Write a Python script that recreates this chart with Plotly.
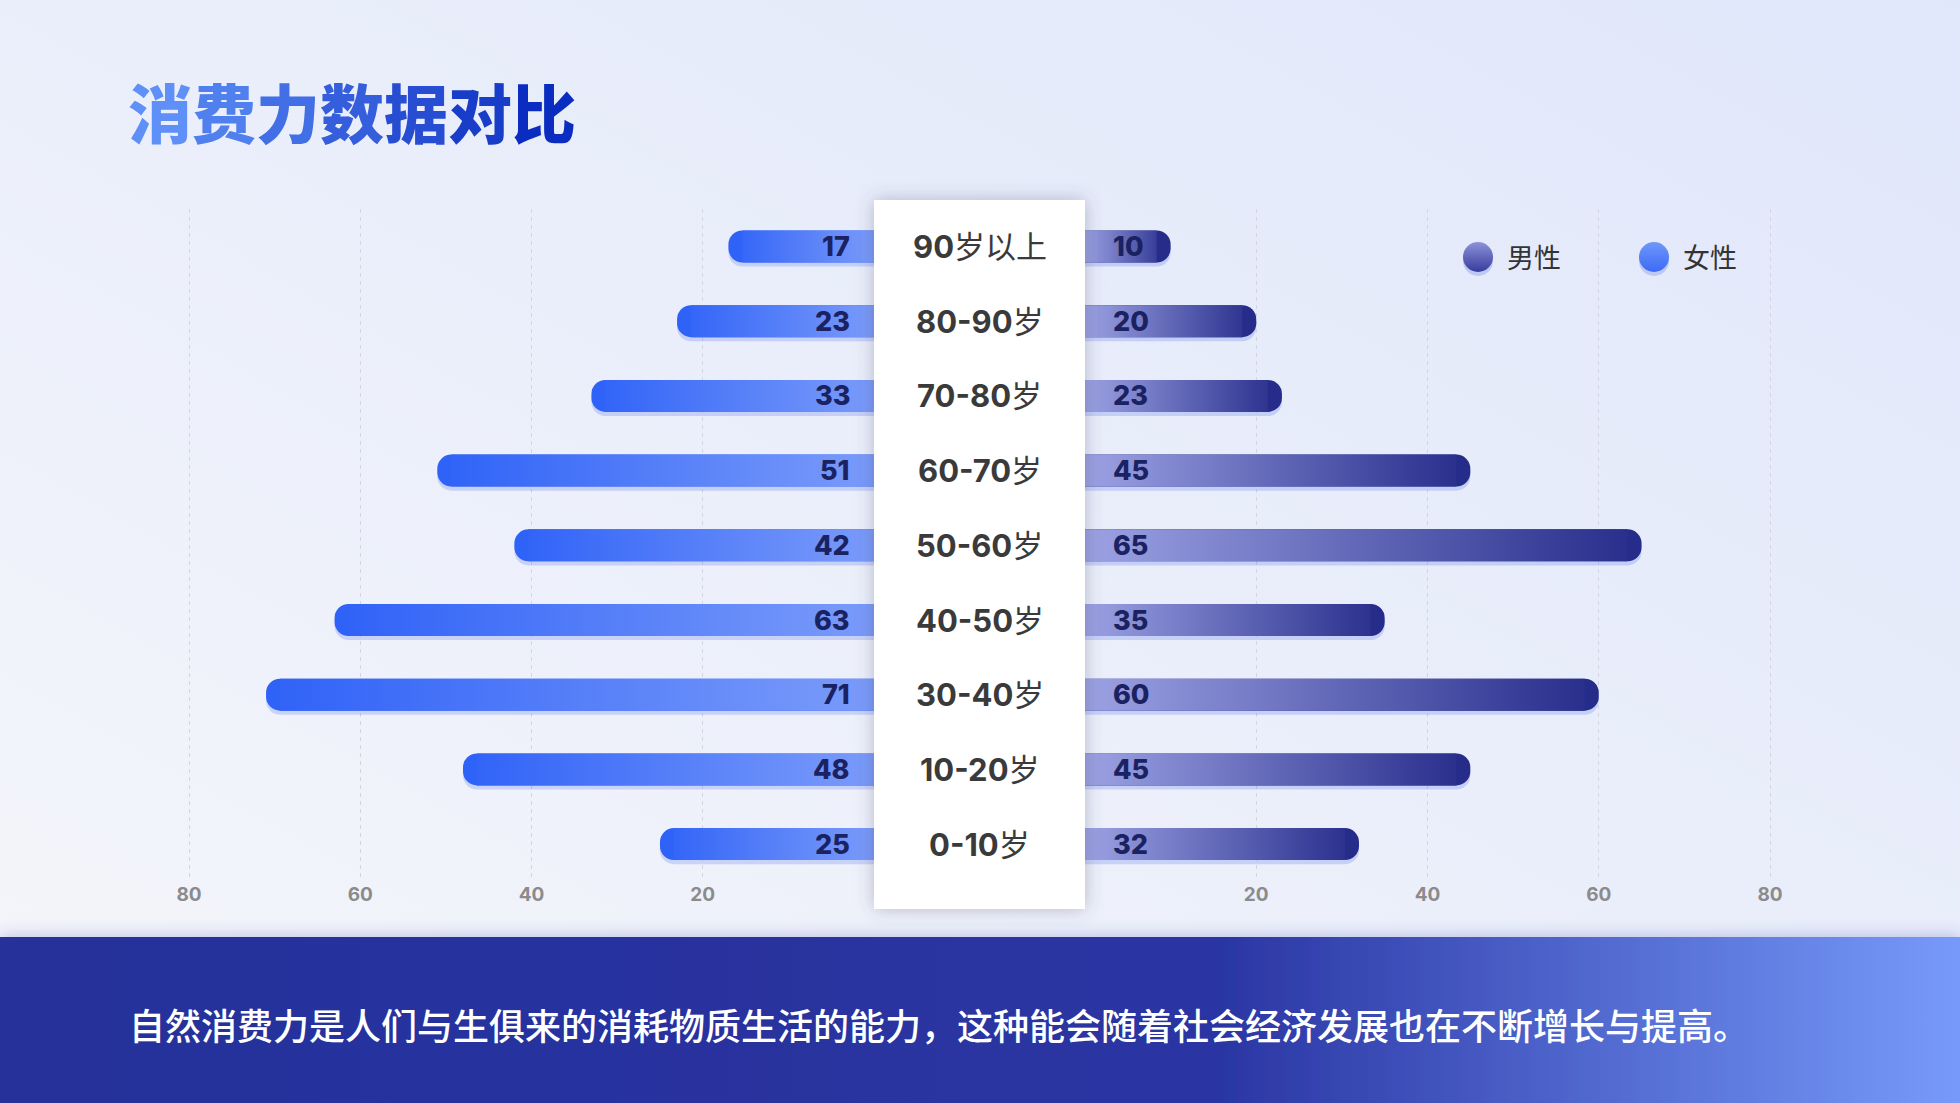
import base64
import re

import plotly.graph_objects as go

AGE_GROUPS = ["90岁以上", "80-90岁", "70-80岁", "60-70岁", "50-60岁",
              "40-50岁", "30-40岁", "10-20岁", "0-10岁"]
FEMALE = [17, 23, 33, 51, 42, 63, 71, 48, 25]
MALE = [10, 20, 23, 45, 65, 35, 60, 45, 32]
SERIES = ["男性", "女性"]
TICKS = [20, 40, 60, 80]
TITLE = "消费力数据对比"
NOTE = "自然消费力是人们与生俱来的消耗物质生活的能力，这种能会随着社会经济发展也在不断增长与提高。"

# page geometry (px)
W, H = 1960, 1103
UNIT = 8.5625          # px per value unit
XMAX = 88
LEFT_ZERO, RIGHT_ZERO = 874, 1085
ROW_TOP, ROW_STEP = 246.5, 74.7
BAR_PX = 32
RADIUS = 14

F_NEAR, F_FAR = "#7a9bfa", "#2f62f7"
M_NEAR, M_FAR = "#9ca2e3", "#262c8a"
NUM_FONT = "Inter, Noto Sans CJK SC"
CJK_FONT = "Noto Sans CJK SC"


def mix(c0, c1, t):
    a = [int(c0[i:i + 2], 16) for i in (1, 3, 5)]
    b = [int(c1[i:i + 2], 16) for i in (1, 3, 5)]
    return "#" + "".join("%02x" % round(a[k] + (b[k] - a[k]) * t) for k in range(3))


def svg_uri(body):
    svg = (f'<svg xmlns="http://www.w3.org/2000/svg" width="{W}" height="{H}" '
           f'viewBox="0 0 {W} {H}">{body}</svg>')
    return "data:image/svg+xml;base64," + base64.b64encode(svg.encode()).decode()


n = len(AGE_GROUPS)
rows = list(range(n))
bar_w = BAR_PX / ROW_STEP
cap = RADIUS / UNIT
y_top_px = ROW_TOP - ROW_STEP / 2
y_bot_px = y_top_px + n * ROW_STEP
ydom = [1 - y_bot_px / H, 1 - y_top_px / H]
left_dom = [(LEFT_ZERO - XMAX * UNIT) / W, LEFT_ZERO / W]
right_dom = [RIGHT_ZERO / W, (RIGHT_ZERO + XMAX * UNIT) / W]

fig = go.Figure()

# bars: soft shadow, capsule body, gradient overlay
for vals, xa, near, far in [(FEMALE, "x", F_NEAR, F_FAR), (MALE, "x2", M_NEAR, M_FAR)]:
    fig.add_trace(go.Bar(
        x=vals, y=[r + 0.055 for r in rows], orientation="h", width=bar_w,
        marker=dict(color="rgba(70,100,235,0.22)", cornerradius=RADIUS, line=dict(width=0)),
        xaxis=xa, yaxis="y", hoverinfo="skip"))
    fig.add_trace(go.Bar(
        x=vals, y=rows, orientation="h", width=bar_w,
        marker=dict(color=far, cornerradius=RADIUS, line=dict(width=0)),
        xaxis=xa, yaxis="y", hoverinfo="skip"))
    for r, v in zip(rows, vals):
        end = v - cap
        fig.add_trace(go.Scatter(
            x=[0, end, end, 0, 0],
            y=[r - bar_w / 2, r - bar_w / 2, r + bar_w / 2, r + bar_w / 2, r - bar_w / 2],
            mode="lines", line=dict(width=0), fill="toself",
            fillgradient=dict(type="horizontal", start=0, stop=end,
                              colorscale=[[0, near], [1, mix(near, far, end / v)]]),
            xaxis=xa, yaxis="y", hoverinfo="skip"))

# legend markers on an overlay paper-like axis
legend_pos = {"男性": (1478, 257), "女性": (1654, 257)}
legend_col = {"男性": ("#8d92da", "#363c9c"), "女性": ("#7098fa", "#3c6af7")}
for s in SERIES:
    px_, py_ = legend_pos[s]
    c0, c1 = legend_col[s]
    fig.add_trace(go.Scatter(
        x=[px_ / W], y=[1 - (py_ + 4) / H], mode="markers",
        marker=dict(size=30, color="rgba(70,100,230,0.25)", line=dict(width=0)),
        xaxis="x3", yaxis="y3", hoverinfo="skip"))
    fig.add_trace(go.Scatter(
        x=[px_ / W], y=[1 - py_ / H], mode="markers",
        marker=dict(size=30, color=c0, gradient=dict(type="vertical", color=c1), line=dict(width=0)),
        xaxis="x3", yaxis="y3", hoverinfo="skip"))

ann = []
# title with per-character gradient
title_html = "".join(
    f'<span style="color:{mix("#5e90f7", "#0a2cc0", k / (len(TITLE) - 1))}">{ch}</span>'
    for k, ch in enumerate(TITLE))
ann.append(dict(text=title_html, x=126 / W, y=1 - 110 / H, xref="paper", yref="paper",
                xanchor="left", yanchor="middle", showarrow=False,
                font=dict(family=CJK_FONT, size=64, weight=900)))
ann.append(dict(text=NOTE, x=127 / W, y=1 - 1024 / H, xref="paper", yref="paper",
                xanchor="left", yanchor="middle", showarrow=False,
                font=dict(family=CJK_FONT, size=36, color="#ffffff", weight=500)))

for r, lab, f, m in zip(rows, AGE_GROUPS, FEMALE, MALE):
    ann.append(dict(text=re.sub(r"([\d\-]+)", r"<b>\1</b>", lab),
                    x=(LEFT_ZERO + RIGHT_ZERO) / 2 / W, y=r, xref="paper", yref="y",
                    xanchor="center", yanchor="middle", showarrow=False,
                    font=dict(family=NUM_FONT, size=31, color="#3a3a3a")))
    ann.append(dict(text=str(f), x=0, y=r, xref="x", yref="y", xanchor="right",
                    yanchor="middle", xshift=-22, showarrow=False,
                    font=dict(family=NUM_FONT, size=27, color="#1b2262", weight=800)))
    ann.append(dict(text=str(m), x=0, y=r, xref="x2", yref="y", xanchor="left",
                    yanchor="middle", xshift=26, showarrow=False,
                    font=dict(family=NUM_FONT, size=27, color="#1b2262", weight=800)))

for s in SERIES:
    px_, py_ = legend_pos[s]
    ann.append(dict(text=s, x=(px_ + 27) / W, y=1 - py_ / H, xref="paper", yref="paper",
                    xanchor="left", yanchor="middle", showarrow=False,
                    font=dict(family=CJK_FONT, size=27, color="#333333")))

bg_svg = svg_uri(
    '<defs>'
    '<linearGradient id="bg" x1="0" y1="1" x2="1" y2="0">'
    '<stop offset="0" stop-color="#f5f6fa"/><stop offset="1" stop-color="#e0e7fa"/>'
    '</linearGradient>'
    '<linearGradient id="band" x1="0" y1="0" x2="1" y2="0">'
    '<stop offset="0" stop-color="#26309a"/><stop offset="0.62" stop-color="#2a35a3"/>'
    '<stop offset="1" stop-color="#779afa"/></linearGradient>'
    '<filter id="sh" x="-5%" y="-50%" width="110%" height="200%">'
    '<feDropShadow dx="0" dy="-3" stdDeviation="7" flood-color="#3a4ab0" flood-opacity="0.25"/>'
    '</filter></defs>'
    f'<rect width="{W}" height="{H}" fill="url(#bg)"/>'
    f'<rect y="937" width="{W}" height="{H - 937}" fill="url(#band)" filter="url(#sh)"/>')

box_svg = svg_uri(
    '<defs><filter id="bs" x="-30%" y="-10%" width="160%" height="120%">'
    '<feDropShadow dx="0" dy="0" stdDeviation="9" flood-color="#4a5070" flood-opacity="0.35"/>'
    '</filter></defs>'
    f'<rect x="{LEFT_ZERO}" y="200" width="{RIGHT_ZERO - LEFT_ZERO}" height="709" '
    'fill="#ffffff" filter="url(#bs)"/>')

axis_common = dict(range=None, tickvals=TICKS, showgrid=True, gridcolor="#d3d6df",
                   gridwidth=1.3, griddash="4px,4px", zeroline=False, showline=False,
                   ticks="", tickfont=dict(family=NUM_FONT, size=19, color="#8b8b8b", weight="bold"),
                   fixedrange=True, anchor="y")

fig.update_layout(
    width=W, height=H, margin=dict(l=0, r=0, t=0, b=0),
    paper_bgcolor="#f0f2fa", plot_bgcolor="rgba(0,0,0,0)",
    barmode="overlay", showlegend=False,
    xaxis={**axis_common, "domain": left_dom, "range": [XMAX, 0]},
    xaxis2={**axis_common, "domain": right_dom, "range": [0, XMAX]},
    yaxis=dict(domain=ydom, range=[n - 0.5, -0.5], visible=False, fixedrange=True),
    xaxis3=dict(domain=[0, 1], range=[0, 1], visible=False, anchor="y3"),
    yaxis3=dict(domain=[0, 1], range=[0, 1], visible=False, anchor="x3"),
    images=[
        dict(source=bg_svg, xref="paper", yref="paper", x=0, y=1, sizex=1, sizey=1,
             xanchor="left", yanchor="top", sizing="stretch", layer="below"),
        dict(source=box_svg, xref="paper", yref="paper", x=0, y=1, sizex=1, sizey=1,
             xanchor="left", yanchor="top", sizing="stretch", layer="above"),
    ],
    annotations=ann,
)

# drop the browser's default page margin so the figure fills the window
fig.write_html("out.html", config={"displayModeBar": False},
               post_script="document.body.style.margin='0';")
